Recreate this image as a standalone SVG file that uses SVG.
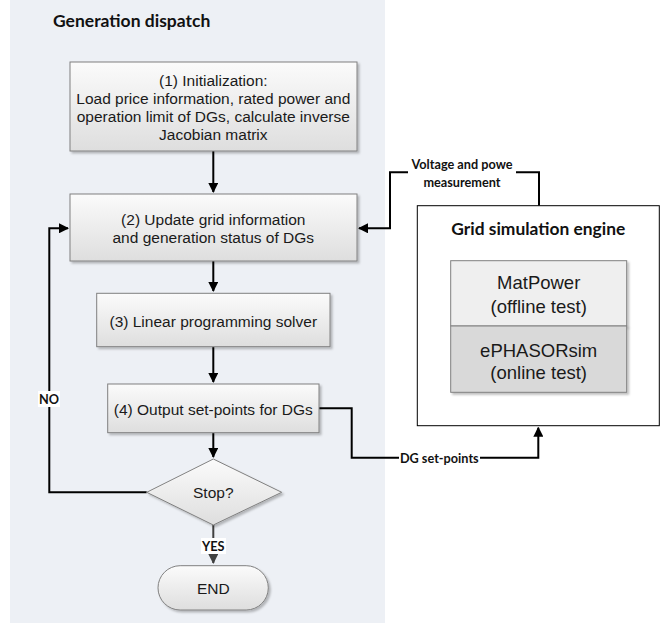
<svg xmlns="http://www.w3.org/2000/svg" width="669" height="626" viewBox="0 0 669 626">
<style>
.box{stroke:#808080;stroke-width:1;fill:url(#g)}
.t{font-family:"Liberation Sans",Arial,sans-serif;font-size:15.5px;fill:#1a1a1a;text-anchor:middle;dominant-baseline:central}
.big{font-size:18.5px}
.b{font-family:Lato,"Liberation Sans",sans-serif;font-weight:bold;fill:#111;text-anchor:middle;dominant-baseline:central}
.s{font-size:12.7px}
.c{fill:none;stroke:#000;stroke-width:2}
.lbl{fill:#fff}
</style>
<defs>
<linearGradient id="g" x1="0" y1="0" x2="0" y2="1"><stop offset="0" stop-color="#fbfbfb"/><stop offset="1" stop-color="#dedede"/></linearGradient>
<filter id="sh" x="-10%" y="-10%" width="130%" height="140%"><feDropShadow dx="2" dy="2" stdDeviation="1.2" flood-color="#000" flood-opacity="0.25"/></filter>
<marker id="a" viewBox="0 0 10 10" refX="9" refY="5" markerWidth="5" markerHeight="5" orient="auto"><path d="M0,0L10,5L0,10z" fill="#000"/></marker>
<marker id="ag" viewBox="0 0 10 10" refX="9" refY="5" markerWidth="5" markerHeight="5" orient="auto"><path d="M0,0L10,5L0,10z" fill="#404040"/></marker>
</defs>
<rect x="10" y="0" width="375" height="623" fill="#edf0f5"/>
<text x="53" y="20" class="b" style="font-size:17.5px;text-anchor:start">Generation dispatch</text>

<g id="connectors">
<path class="c" d="M213.3,151V192" marker-end="url(#a)"/>
<path class="c" d="M213.3,261V291" marker-end="url(#a)"/>
<path class="c" d="M213.3,347V382" marker-end="url(#a)"/>
<path class="c" d="M213.3,433V457" marker-end="url(#a)"/>
<path d="M213.3,525V563" fill="none" stroke="#404040" stroke-width="2" marker-end="url(#ag)"/>
<path class="c" d="M146.7,492.3H49.3V228.3H68" marker-end="url(#a)"/>
<path class="c" d="M539,205.7V172.3H390V228.3H359" marker-end="url(#a)"/>
<path class="c" d="M319,408.3H351.7V457.7H538.3V427.7" marker-end="url(#a)"/>
<rect class="lbl" x="38" y="391" width="22" height="16"/>
<text x="49" y="399" class="b s">NO</text>
<rect class="lbl" x="201" y="538" width="25" height="16"/>
<text x="213.3" y="546" class="b s">YES</text>
<rect class="lbl" x="408" y="155" width="108" height="35"/>
<text x="462" y="164" class="b s">Voltage and powe</text>
<text x="462" y="181.7" class="b s">measurement</text>
<rect class="lbl" x="399" y="450" width="81" height="16"/>
<text x="439.3" y="458" class="b s">DG set-points</text>
</g>

<g id="n1"><rect class="box" x="70" y="62" width="287" height="89" filter="url(#sh)"/>
<text class="t" x="213.3" y="80">(1) Initialization:</text>
<text class="t" x="213.3" y="98">Load price information, rated power and</text>
<text class="t" x="213.3" y="116.5">operation limit of DGs, calculate inverse</text>
<text class="t" x="213.3" y="134.5">Jacobian matrix</text></g>

<g id="n2"><rect class="box" x="70" y="194" width="287" height="67" filter="url(#sh)"/>
<text class="t" x="213.3" y="219.3">(2) Update grid information</text>
<text class="t" x="213.3" y="237.3">and generation status of DGs</text></g>

<g id="n3"><rect class="box" x="96.7" y="293.3" width="233.3" height="53.4" filter="url(#sh)"/>
<text class="t" x="213.3" y="321.7">(3) Linear programming solver</text></g>

<g id="n4"><rect class="box" x="107.7" y="384" width="211.3" height="48.7" filter="url(#sh)"/>
<text class="t" x="213.3" y="409.3">(4) Output set-points for DGs</text></g>

<g id="n5"><path class="box" d="M213.3,459L281.7,492.3L213.3,525L146.7,492.3Z" filter="url(#sh)"/>
<text class="t" x="213.3" y="492.3">Stop?</text></g>

<g id="n6"><rect class="box" x="158" y="565.7" width="110.3" height="44.3" rx="22.15" filter="url(#sh)"/>
<text class="t" x="213.3" y="588">END</text></g>

<g id="n7"><rect x="417.3" y="205.7" width="242" height="220" fill="#fff" stroke="#000" stroke-width="1"/>
<text x="538.3" y="228.3" class="b" style="font-size:17.4px">Grid simulation engine</text>
<rect x="450.7" y="260.7" width="176" height="65.3" fill="#efefef" stroke="#808080" filter="url(#sh)"/>
<rect x="450.7" y="326" width="176" height="66.3" fill="#d9d9d9" stroke="#808080" filter="url(#sh)"/>
<text class="t big" x="538.7" y="282.7">MatPower</text>
<text class="t big" x="538.7" y="306">(offline test)</text>
<text class="t big" x="538.7" y="350">ePHASORsim</text>
<text class="t big" x="538.7" y="372.7">(online test)</text></g>
</svg>
